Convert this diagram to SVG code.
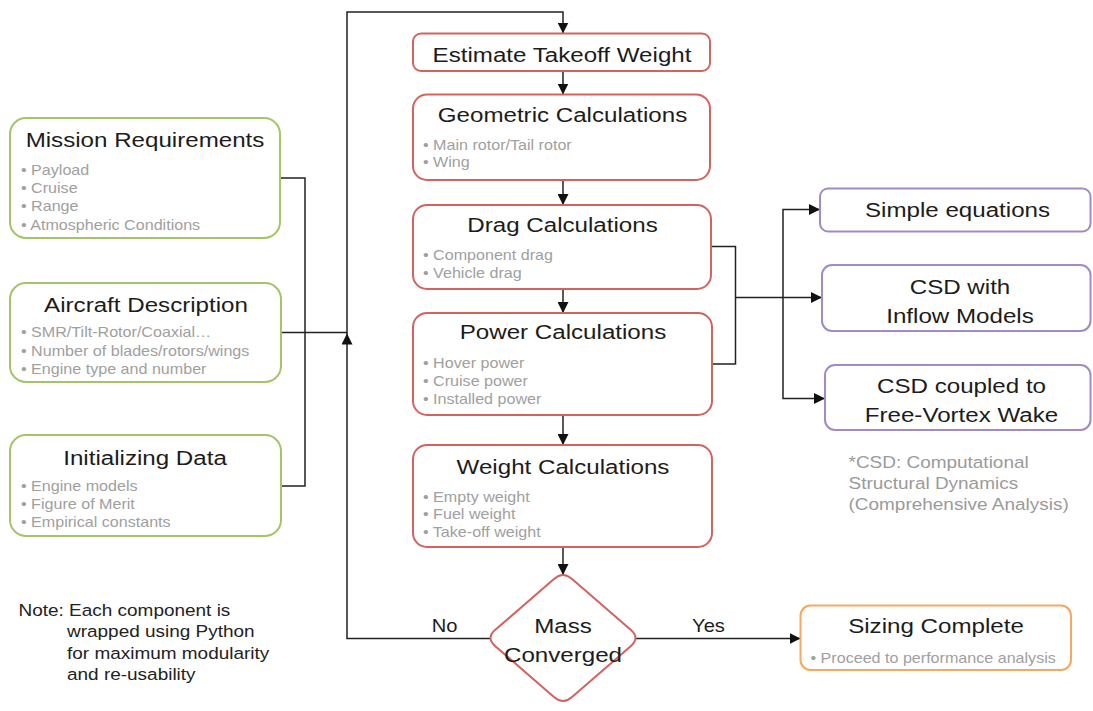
<svg xmlns="http://www.w3.org/2000/svg" width="1093" height="711" viewBox="0 0 1093 711">
<style>
text{font-family:"Liberation Sans",Arial,Helvetica,sans-serif}
.t{font-size:21px;fill:#1c1c1c;text-anchor:middle}
.b{font-size:14px;fill:#a0a0a0}
.n{font-size:16.5px;fill:#222}
.c{font-size:16.5px;fill:#9a9a9a}
.l{font-size:17.5px;fill:#1c1c1c;text-anchor:middle}
.g{fill:#fff;stroke:#a5c565;stroke-width:2}
.r{fill:#fff;stroke:#d4625e;stroke-width:2}
.p{fill:#fff;stroke:#a08bc8;stroke-width:2}
.o{fill:#fff;stroke:#f7a85e;stroke-width:2}
.w{fill:none;stroke:#222;stroke-width:1.5}
</style>
<defs>
<marker id="ah" viewBox="0 0 10 10" refX="10" refY="5" markerWidth="11" markerHeight="11" markerUnits="userSpaceOnUse" orient="auto"><path d="M0,0 L10,5 L0,10 z" fill="#111"/></marker>
</defs>
<rect width="1093" height="711" fill="#fff"/>
<g id="connectors">
<path class="w" d="M280,178 H305 V486 H281"/>
<path class="w" d="M281,332.5 H347"/>
<path class="w" d="M490.5,638.5 H347 V333.5" marker-end="url(#ah)"/>
<path class="w" d="M347,334 V12 H563 V33.5" marker-end="url(#ah)"/>
<path class="w" d="M563,71 V94.5" marker-end="url(#ah)"/>
<path class="w" d="M563,180 V205" marker-end="url(#ah)"/>
<path class="w" d="M563,289 V313" marker-end="url(#ah)"/>
<path class="w" d="M563,415 V445" marker-end="url(#ah)"/>
<path class="w" d="M563,547 V575" marker-end="url(#ah)"/>
<path class="w" d="M635.5,638.5 H800.5" marker-end="url(#ah)"/>
<path class="w" d="M711.5,246.5 H735.5 V364 H712"/>
<path class="w" d="M735.5,297.5 H822" marker-end="url(#ah)"/>
<path class="w" d="M783,297.5 V209.5 H820" marker-end="url(#ah)"/>
<path class="w" d="M783,297.5 V398.5 H825" marker-end="url(#ah)"/>
<text class="l" transform="translate(444.5,631.5) scale(1.15,1)">No</text>
<text class="l" transform="translate(708.5,631.5) scale(1.15,1)">Yes</text>
</g>
<g id="mission">
<rect class="g" x="10" y="118" width="270" height="120" rx="16"/>
<text class="t" transform="translate(145,147) scale(1.15,1)">Mission Requirements</text>
<text class="b" transform="translate(21,174.5) scale(1.15,1)">• Payload</text>
<text class="b" transform="translate(21,192.5) scale(1.15,1)">• Cruise</text>
<text class="b" transform="translate(21,211) scale(1.15,1)">• Range</text>
<text class="b" transform="translate(21,229.5) scale(1.15,1)">• Atmospheric Conditions</text>
</g>
<g id="aircraft">
<rect class="g" x="10" y="283" width="271" height="99" rx="16"/>
<text class="t" transform="translate(146,312) scale(1.15,1)">Aircraft Description</text>
<text class="b" transform="translate(21,337) scale(1.15,1)">• SMR/Tilt-Rotor/Coaxial…</text>
<text class="b" transform="translate(21,355.5) scale(1.15,1)">• Number of blades/rotors/wings</text>
<text class="b" transform="translate(21,374) scale(1.15,1)">• Engine type and number</text>
</g>
<g id="init">
<rect class="g" x="10" y="435" width="271" height="101" rx="16"/>
<text class="t" transform="translate(145,465) scale(1.15,1)">Initializing Data</text>
<text class="b" transform="translate(21,490.5) scale(1.15,1)">• Engine models</text>
<text class="b" transform="translate(21,508.5) scale(1.15,1)">• Figure of Merit</text>
<text class="b" transform="translate(21,527) scale(1.15,1)">• Empirical constants</text>
</g>
<g id="estimate">
<rect class="r" x="413" y="33.5" width="297" height="37.5" rx="8"/>
<text class="t" transform="translate(562,61.5) scale(1.15,1)">Estimate Takeoff Weight</text>
</g>
<g id="geometric">
<rect class="r" x="413" y="94.5" width="297" height="85.5" rx="14"/>
<text class="t" transform="translate(562.5,121.5) scale(1.15,1)">Geometric Calculations</text>
<text class="b" transform="translate(423,149.5) scale(1.15,1)">• Main rotor/Tail rotor</text>
<text class="b" transform="translate(423,167) scale(1.15,1)">• Wing</text>
</g>
<g id="drag">
<rect class="r" x="413" y="205" width="298" height="84" rx="14"/>
<text class="t" transform="translate(562.5,231.5) scale(1.15,1)">Drag Calculations</text>
<text class="b" transform="translate(423,260) scale(1.15,1)">• Component drag</text>
<text class="b" transform="translate(423,277.5) scale(1.15,1)">• Vehicle drag</text>
</g>
<g id="power">
<rect class="r" x="413" y="313" width="299" height="102" rx="14"/>
<text class="t" transform="translate(563,339) scale(1.15,1)">Power Calculations</text>
<text class="b" transform="translate(423,367.5) scale(1.15,1)">• Hover power</text>
<text class="b" transform="translate(423,385.5) scale(1.15,1)">• Cruise power</text>
<text class="b" transform="translate(423,404) scale(1.15,1)">• Installed power</text>
</g>
<g id="weight">
<rect class="r" x="413" y="445" width="299" height="102" rx="14"/>
<text class="t" transform="translate(563,474) scale(1.15,1)">Weight Calculations</text>
<text class="b" transform="translate(423,501.5) scale(1.15,1)">• Empty weight</text>
<text class="b" transform="translate(423,519) scale(1.15,1)">• Fuel weight</text>
<text class="b" transform="translate(423,537) scale(1.15,1)">• Take-off weight</text>
</g>
<g id="converged">
<path class="r" d="M553.95,578.88 Q563,571 572.05,578.88 L630.95,630.12 Q640,638 630.95,645.88 L572.05,697.12 Q563,705 553.95,697.12 L495.05,645.88 Q486,638 495.05,630.12 Z"/>
<text class="t" transform="translate(563,633) scale(1.15,1)">Mass</text>
<text class="t" transform="translate(563,661.5) scale(1.15,1)">Converged</text>
</g>
<g id="simple">
<rect class="p" x="820" y="188.5" width="270.5" height="43" rx="8"/>
<text class="t" transform="translate(957.5,216.5) scale(1.15,1)">Simple equations</text>
</g>
<g id="csd-inflow">
<rect class="p" x="822" y="265" width="268.5" height="66" rx="10"/>
<text class="t" transform="translate(960,294) scale(1.15,1)">CSD with</text>
<text class="t" transform="translate(960,322.5) scale(1.15,1)">Inflow Models</text>
</g>
<g id="csd-fvw">
<rect class="p" x="825" y="365" width="265.5" height="65" rx="10"/>
<text class="t" transform="translate(961.5,393) scale(1.15,1)">CSD coupled to</text>
<text class="t" transform="translate(961.5,421.5) scale(1.15,1)">Free-Vortex Wake</text>
</g>
<g id="csd-note">
<text class="c" transform="translate(848.5,467.5) scale(1.15,1)">*CSD: Computational</text>
<text class="c" transform="translate(848.5,489) scale(1.15,1)">Structural Dynamics</text>
<text class="c" transform="translate(848.5,510) scale(1.15,1)">(Comprehensive Analysis)</text>
</g>
<g id="sizing">
<rect class="o" x="800.5" y="605.5" width="270.5" height="64.5" rx="10"/>
<text class="t" transform="translate(936,633) scale(1.15,1)">Sizing Complete</text>
<text class="b" transform="translate(810.5,662.5) scale(1.15,1)">• Proceed to performance analysis</text>
</g>
<g id="note">
<text class="n" transform="translate(18.5,615.5) scale(1.15,1)">Note: Each component is</text>
<text class="n" transform="translate(67,637) scale(1.15,1)">wrapped using Python</text>
<text class="n" transform="translate(67,658.5) scale(1.15,1)">for maximum modularity</text>
<text class="n" transform="translate(67,680) scale(1.15,1)">and re-usability</text>
</g>
</svg>
